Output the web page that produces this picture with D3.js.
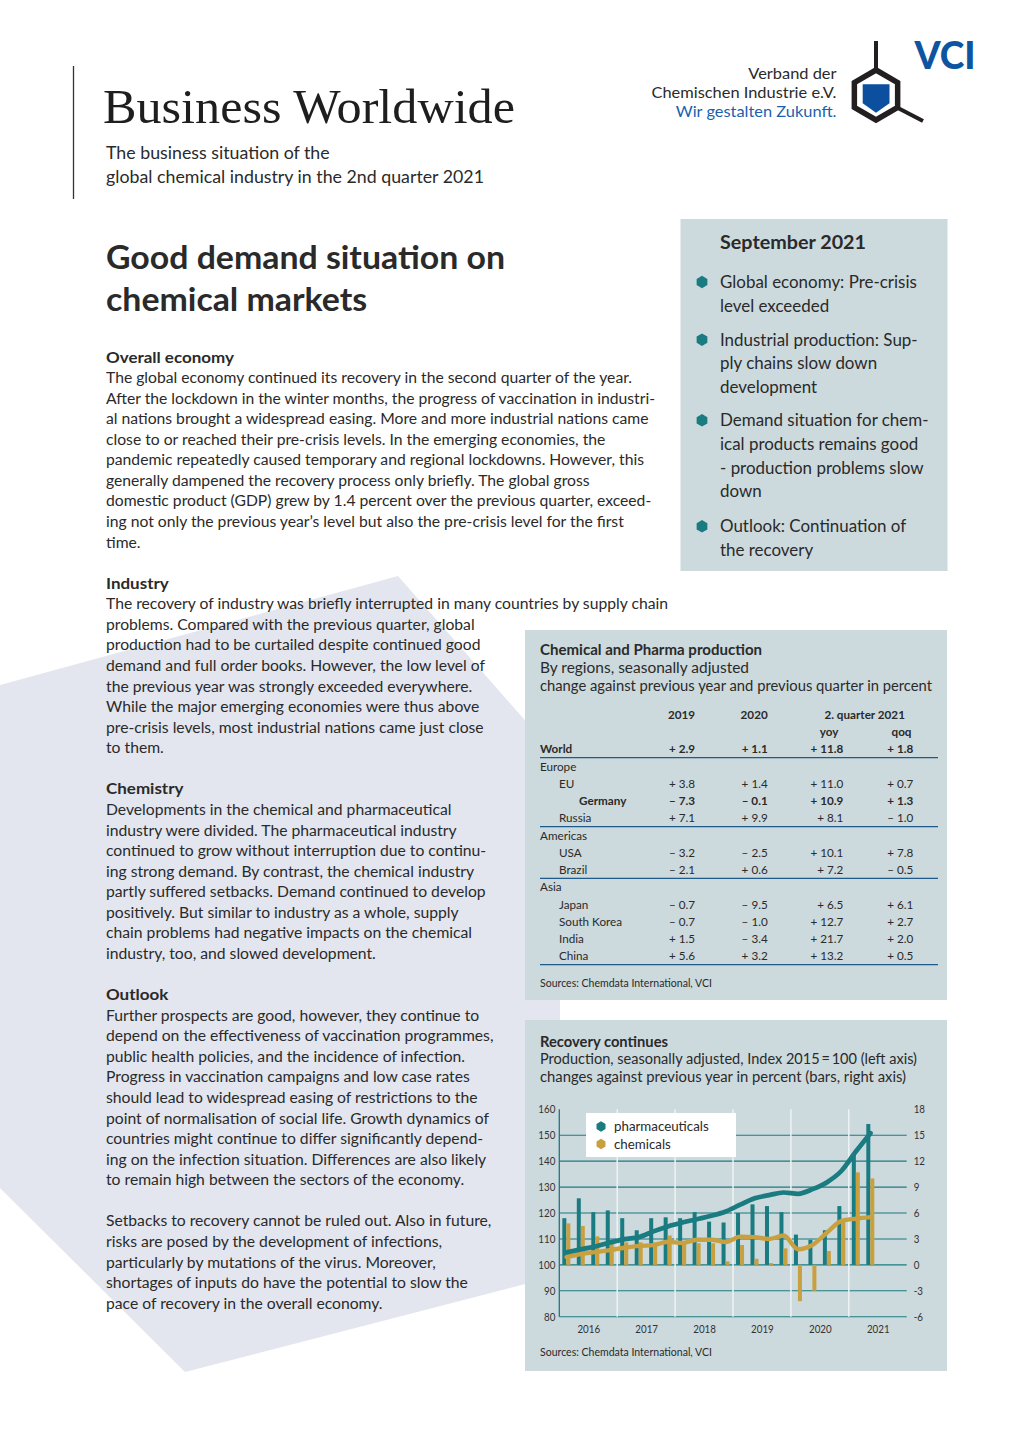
<!DOCTYPE html>
<html><head><meta charset="utf-8">
<script src="https://cdn.jsdelivr.net/npm/d3@7"></script>
<style>body{margin:0;background:#fff;}svg{display:block;}</style>
</head><body>
<svg id="page" width="1020" height="1442"></svg>
<script>
// ---------------- DATA ----------------
const quarters = ["2016 Q1","2016 Q2","2016 Q3","2016 Q4","2017 Q1","2017 Q2","2017 Q3","2017 Q4",
  "2018 Q1","2018 Q2","2018 Q3","2018 Q4","2019 Q1","2019 Q2","2019 Q3","2019 Q4",
  "2020 Q1","2020 Q2","2020 Q3","2020 Q4","2021 Q1","2021 Q2"];
const pharmaIndex = [104.8,106.0,107.1,108.6,109.9,110.7,112.9,114.8,116.3,117.6,118.9,120.6,
  123.2,125.7,126.9,127.9,127.4,129.2,131.9,136.3,143.8,150.8];
const chemIndex = [103.0,104.2,104.9,105.7,106.6,107.3,107.6,108.9,108.4,109.7,109.7,108.8,
  110.9,110.7,110.0,111.3,106.0,107.7,112.5,117.0,117.8,118.4];
const pharmaChange = [5.4,7.7,6.1,6.3,5.4,4.0,5.4,5.5,5.4,6.1,5.0,4.9,6.0,7.0,6.8,6.1,3.5,2.9,4.0,6.8,12.9,16.3];
const chemChange = [4.8,4.5,3.3,2.5,2.6,2.6,2.6,3.4,2.7,2.5,2.5,0.4,2.3,0.7,0.2,1.9,-4.2,-3.0,1.6,5.0,10.7,10.0];
const leftTicks = [80,90,100,110,120,130,140,150,160];
const rightTicks = [-6,-3,0,3,6,9,12,15,18];
const years = ["2016","2017","2018","2019","2020","2021"];
const seriesNames = ["pharmaceuticals","chemicals"];

const tableRows = ["World","Europe","EU","Germany","Russia","Americas","USA","Brazil","Asia","Japan","South Korea","India","China"];
const rowLevel = [0,0,1,2,1,0,1,1,0,1,1,1,1];
const rowBold = [true,false,false,true,false,false,false,false,false,false,false,false,false];
const rowRuleAfter = [true,false,false,false,true,false,false,true,false,false,false,false,true];
const val2019 = [2.9,null,3.8,-7.3,7.1,null,-3.2,-2.1,null,-0.7,-0.7,1.5,5.6];
const val2020 = [1.1,null,1.4,-0.1,9.9,null,-2.5,0.6,null,-9.5,-1.0,-3.4,3.2];
const valYoy = [11.8,null,11.0,10.9,8.1,null,10.1,7.2,null,6.5,12.7,21.7,13.2];
const valQoq = [1.8,null,0.7,1.3,-1.0,null,7.8,-0.5,null,6.1,2.7,2.0,0.5];

const bodyFlow = [
 ["Overall economy",1],
 ["The global economy continued its recovery in the second quarter of the year.",0],
 ["After the lockdown in the winter months, the progress of vaccination in industri-",0],
 ["al nations brought a widespread easing. More and more industrial nations came",0],
 ["close to or reached their pre-crisis levels. In the emerging economies, the",0],
 ["pandemic repeatedly caused temporary and regional lockdowns. However, this",0],
 ["generally dampened the recovery process only briefly. The global gross",0],
 ["domestic product (GDP) grew by 1.4 percent over the previous quarter, exceed-",0],
 ["ing not only the previous year’s level but also the pre-crisis level for the first",0],
 ["time.",0],
 ["",0],
 ["Industry",1],
 ["The recovery of industry was briefly interrupted in many countries by supply chain",0],
 ["problems. Compared with the previous quarter, global",0],
 ["production had to be curtailed despite continued good",0],
 ["demand and full order books. However, the low level of",0],
 ["the previous year was strongly exceeded everywhere.",0],
 ["While the major emerging economies were thus above",0],
 ["pre-crisis levels, most industrial nations came just close",0],
 ["to them.",0],
 ["",0],
 ["Chemistry",1],
 ["Developments in the chemical and pharmaceutical",0],
 ["industry were divided. The pharmaceutical industry",0],
 ["continued to grow without interruption due to continu-",0],
 ["ing strong demand. By contrast, the chemical industry",0],
 ["partly suffered setbacks. Demand continued to develop",0],
 ["positively. But similar to industry as a whole, supply",0],
 ["chain problems had negative impacts on the chemical",0],
 ["industry, too, and slowed development.",0],
 ["",0],
 ["Outlook",1],
 ["Further prospects are good, however, they continue to",0],
 ["depend on the effectiveness of vaccination programmes,",0],
 ["public health policies, and the incidence of infection.",0],
 ["Progress in vaccination campaigns and low case rates",0],
 ["should lead to widespread easing of restrictions to the",0],
 ["point of normalisation of social life. Growth dynamics of",0],
 ["countries might continue to differ significantly depend-",0],
 ["ing on the infection situation. Differences are also likely",0],
 ["to remain high between the sectors of the economy.",0],
 ["",0],
 ["Setbacks to recovery cannot be ruled out. Also in future,",0],
 ["risks are posed by the development of infections,",0],
 ["particularly by mutations of the virus. Moreover,",0],
 ["shortages of inputs do have the potential to slow the",0],
 ["pace of recovery in the overall economy.",0]
];
const bulletItems = [
 ["Global economy: Pre-crisis","level exceeded"],
 ["Industrial production: Sup-","ply chains slow down","development"],
 ["Demand situation for chem-","ical products remains good","- production problems slow","down"],
 ["Outlook: Continuation of","the recovery"]
];

// ---------------- HELPERS ----------------
const svg = d3.select("#page");
const SANS = "Lato, 'Source Sans Pro', sans-serif";
const SERIF = "'Liberation Serif', 'DejaVu Serif', serif";
const TXT = "#2a2a2a";
const TEAL = "#1a7b80", GOLD = "#c9a03f", BOXBG = "#ccd9dd";

function measure(str, size, weight, family){
  const t = svg.append("text").attr("font-family",family).attr("font-size",size).attr("font-weight",weight).text(str);
  const w = t.node().getComputedTextLength(); t.remove(); return w;
}
function mkStyle(size, weight, ref, target, family){
  family = family || SANS;
  return {size, weight, family, k: target / measure(ref, size, weight, family)};
}
function fit(t, st, width){
  const w = t.node().getComputedTextLength();
  if (w > 0) t.attr("textLength", width || w*st.k).attr("lengthAdjust","spacingAndGlyphs");
  return t;
}
function T(g, x, y, str, st, o){
  o = o || {};
  const t = g.append("text").attr("x",x).attr("y",y)
    .attr("font-family",st.family).attr("font-size",st.size).attr("font-weight",st.weight)
    .attr("fill",o.fill||TXT).attr("text-anchor",o.anchor||"start").text(str);
  return fit(t, st, o.width);
}
function hexPath(cx, cy, r){
  const pts = d3.range(6).map(i => { const a = Math.PI/180*(-90+60*i); return [cx + r*Math.cos(a), cy + r*Math.sin(a)]; });
  return d3.line()(pts) + "Z";
}

// styles (fitted to widths)
const S = {
  serif: mkStyle(49, 400, "Business Worldwide", 412, SERIF),
  sub: mkStyle(18, 400, "global chemical industry in the 2nd quarter 2021", 378),
  logo: mkStyle(16, 400, "Chemischen Industrie e.V.", 185),
  vci: mkStyle(38, 900, "VCI", 61),
  big: mkStyle(32, 700, "Good demand situation on", 399),
  head: mkStyle(15.5, 700, "Overall economy", 128),
  body: mkStyle(15.5, 400, "The recovery of industry was briefly interrupted in many countries by supply chain", 562),
  boxHead: mkStyle(18.5, 700, "September 2021", 146),
  bullet: mkStyle(17.5, 400, "Demand situation for chem-", 208.5),
  cTitle: mkStyle(14.5, 700, "Chemical and Pharma production", 222),
  cSub: mkStyle(14.5, 400, "change against previous year and previous quarter in percent", 392),
  cell: mkStyle(11, 400, "South Korea", 63),
  cellB: mkStyle(11, 700, "Germany", 47.3),
  src: mkStyle(10.5, 400, "Sources: Chemdata International, VCI", 172),
  axis: mkStyle(11, 400, "2016", 22.7),
  legend: mkStyle(12.5, 400, "pharmaceuticals", 94.7)
};

// ---------------- BACKGROUND ----------------
svg.append("rect").attr("width",1020).attr("height",1442).attr("fill","#fff");
svg.append("path").attr("d", d3.line()([[0,685],[398,576],[560,760],[560,1275],[185,1372],[0,1188]])+"Z")
  .attr("fill","#e3e6ef");

// ---------------- HEADER ----------------
const hdr = svg.append("g");
hdr.append("line").attr("x1",73.5).attr("x2",73.5).attr("y1",66).attr("y2",199).attr("stroke","#333").attr("stroke-width",1.3);
T(hdr, 103, 123, "Business Worldwide", S.serif, {fill:"#1e1e1e"});
T(hdr, 106, 159, "The business situation of the", S.sub);
T(hdr, 106, 183, "global chemical industry in the 2nd quarter 2021", S.sub);

// logo
const logo = svg.append("g");
T(logo, 836.5, 79.3, "Verband der", S.logo, {anchor:"end"});
T(logo, 836.5, 98.3, "Chemischen Industrie e.V.", S.logo, {anchor:"end"});
T(logo, 836.5, 117.3, "Wir gestalten Zukunft.", S.logo, {anchor:"end", fill:"#1b5fae"});
logo.append("line").attr("x1",876).attr("x2",876).attr("y1",41).attr("y2",70).attr("stroke","#231f20").attr("stroke-width",4);
logo.append("line").attr("x1",897).attr("x2",923).attr("y1",107.5).attr("y2",121).attr("stroke","#231f20").attr("stroke-width",4);
logo.append("path").attr("d", hexPath(876, 95, 25)).attr("fill","none").attr("stroke","#231f20").attr("stroke-width",5.5);
logo.append("path").attr("d", d3.line()([[862.7,84.3],[889.5,84.3],[889.5,103.3],[876,112.7],[862.7,103.3]])+"Z").attr("fill","#0b4f9e");
T(logo, 914.5, 69, "VCI", S.vci, {fill:"#0e55a1"});

// ---------------- LEFT COLUMN ----------------
const lc = svg.append("g");
T(lc, 106, 269, "Good demand situation on", S.big);
T(lc, 106, 310.5, "chemical markets", S.big);
bodyFlow.forEach((d,i) => {
  if (!d[0]) return;
  T(lc, 106, 362.5 + i*20.57, d[0], d[1] ? S.head : S.body);
});

// ---------------- RIGHT BOX ----------------
const rb = svg.append("g");
rb.append("rect").attr("x",680.5).attr("y",219).attr("width",267).attr("height",352).attr("fill",BOXBG);
T(rb, 720, 248.7, "September 2021", S.boxHead);
const bulletY = [288, 345.7, 426.3, 532.3];
bulletItems.forEach((lines,i) => {
  rb.append("path").attr("d", hexPath(702, bulletY[i]-6, 6.2)).attr("fill", TEAL);
  lines.forEach((l,j) => T(rb, 720, bulletY[i] + j*23.7, l, S.bullet));
});

// ---------------- TABLE BOX ----------------
const tb = svg.append("g");
tb.append("rect").attr("x",525).attr("y",630).attr("width",422).attr("height",370).attr("fill",BOXBG);
T(tb, 540, 655.3, "Chemical and Pharma production", S.cTitle);
T(tb, 540, 673, "By regions, seasonally adjusted", S.cSub, {width:209});
T(tb, 540, 690.7, "change against previous year and previous quarter in percent", S.cSub);
const colX = [695, 767.7, 843.3, 913.3];
T(tb, colX[0], 719, "2019", S.cellB, {anchor:"end"});
T(tb, colX[1], 719, "2020", S.cellB, {anchor:"end"});
T(tb, 864.7, 719, "2. quarter 2021", S.cellB, {anchor:"middle"});
T(tb, 829, 736, "yoy", S.cellB, {anchor:"middle"});
T(tb, 901.5, 736, "qoq", S.cellB, {anchor:"middle"});
const fmt = v => (v < 0 ? "\u2013 " : "+ ") + Math.abs(v).toFixed(1);
const rowX = [540, 559, 579];
tableRows.forEach((name,i) => {
  const cy = 749 + i*17.25;
  const st = rowBold[i] ? S.cellB : S.cell;
  T(tb, rowX[rowLevel[i]], cy+4.3, name, st);
  [val2019, val2020, valYoy, valQoq].forEach((arr,c) => {
    if (arr[i] !== null) T(tb, colX[c], cy+4.3, fmt(arr[i]), st, {anchor:"end"});
  });
  if (rowRuleAfter[i]) tb.append("line").attr("x1",540).attr("x2",938).attr("y1",cy+8.6).attr("y2",cy+8.6)
    .attr("stroke","#1f5a8a").attr("stroke-width",1.2);
});
T(tb, 540, 986.7, "Sources: Chemdata International, VCI", S.src);

// ---------------- CHART BOX ----------------
const cb = svg.append("g");
cb.append("rect").attr("x",525).attr("y",1020).attr("width",422).attr("height",351).attr("fill",BOXBG);
T(cb, 540, 1046.7, "Recovery continues", S.cTitle, {width:128});
T(cb, 540, 1064.3, "Production, seasonally adjusted, Index 2015\u2009=\u2009100 (left axis)", S.cSub, {width:377});
T(cb, 540, 1081.7, "changes against previous year in percent (bars, right axis)", S.cSub, {width:366});
T(cb, 540, 1355.5, "Sources: Chemdata International, VCI", S.src);

const X0 = 559.3, X1 = 906.7, YT = 1109.3, YB = 1316.7;
const x = d3.scaleLinear().domain([2016, 2022]).range([X0, X1]);
const qx = i => x(2016 + (i + 0.5)/4);
const yL = d3.scaleLinear().domain([80,160]).range([YB, YT]);
const yR = d3.scaleLinear().domain([-6,18]).range([YB, YT]);

// horizontal grid
cb.append("g").selectAll("line").data(leftTicks.filter(v => v < 160)).join("line")
  .attr("x1",X0).attr("x2",X1).attr("y1",d=>yL(d)).attr("y2",d=>yL(d))
  .attr("stroke",TEAL).attr("stroke-width",1.1);
// vertical year separators
cb.append("g").selectAll("line").data(years.slice(1)).join("line")
  .attr("x1",d=>x(+d)).attr("x2",d=>x(+d)).attr("y1",YT).attr("y2",YB)
  .attr("stroke","#eef3f4").attr("stroke-width",1.5);

// axes (labels via d3 axes)
const axL = cb.append("g").attr("transform",`translate(${X0},0)`)
  .call(d3.axisLeft(yL).tickValues(leftTicks).tickSize(0).tickPadding(4));
const axR = cb.append("g").attr("transform",`translate(${X1},0)`)
  .call(d3.axisRight(yR).tickValues(rightTicks).tickFormat(d => String(d)).tickSize(0).tickPadding(7));
const axB = cb.append("g").attr("transform",`translate(0,${YB})`)
  .call(d3.axisBottom(x).tickValues(years.map(y => +y + 0.5)).tickFormat((d,i)=>years[i]).tickSize(0).tickPadding(9));
[axL, axR, axB].forEach(a => {
  a.select(".domain").remove();
  a.selectAll("text").attr("font-family",S.axis.family).attr("font-size",S.axis.size)
    .attr("fill","#333").each(function(){ fit(d3.select(this), S.axis); });
});
cb.append("line").attr("x1",X0).attr("x2",X0).attr("y1",YT).attr("y2",YB).attr("stroke",TEAL).attr("stroke-width",1.3);

// bars
cb.append("g").selectAll("rect").data(pharmaChange).join("rect")
  .attr("x",(d,i)=>qx(i)-4.2).attr("width",4)
  .attr("y",d=>Math.min(yR(d),yR(0))).attr("height",d=>Math.abs(yR(d)-yR(0)))
  .attr("fill",TEAL);
cb.append("g").selectAll("rect").data(chemChange).join("rect")
  .attr("x",(d,i)=>qx(i)-0.2).attr("width",4)
  .attr("y",d=>Math.min(yR(d),yR(0))).attr("height",d=>Math.abs(yR(d)-yR(0)))
  .attr("fill",GOLD);

// lines
const ln = d3.line().x((d,i)=>qx(i)).y(d=>yL(d)).curve(d3.curveMonotoneX);
cb.append("path").datum(chemIndex).attr("d",ln).attr("fill","none").attr("stroke",GOLD)
  .attr("stroke-width",4.4).attr("stroke-linecap","round").attr("stroke-linejoin","round");
cb.append("path").datum(pharmaIndex).attr("d",ln).attr("fill","none").attr("stroke",TEAL)
  .attr("stroke-width",4.7).attr("stroke-linecap","round").attr("stroke-linejoin","round");

// legend
const lg = cb.append("g");
lg.append("rect").attr("x",586).attr("y",1113).attr("width",150).attr("height",44).attr("fill","#fff");
seriesNames.forEach((n,i) => {
  lg.append("path").attr("d", hexPath(601, 1126.5 + i*17.5, 5.2)).attr("fill", i ? GOLD : TEAL);
  T(lg, 614, 1131 + i*17.5, n, S.legend);
});
</script>
</body></html>
